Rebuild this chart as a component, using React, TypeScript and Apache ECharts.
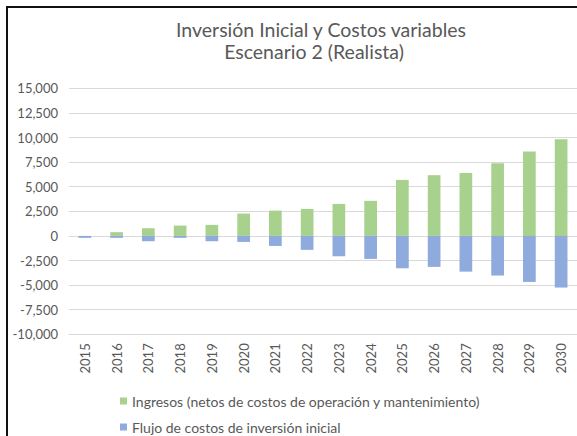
import React, { useEffect, useRef } from "react";
import * as echarts from "echarts";

const years = ["2015","2016","2017","2018","2019","2020","2021","2022","2023","2024","2025","2026","2027","2028","2029","2030"];
const ingresos = [0, 380, 780, 1050, 1120, 2270, 2570, 2740, 3250, 3560, 5690, 6170, 6400, 7390, 8570, 9830];
const flujoInversion = [-200, -200, -540, -200, -540, -610, -1020, -1420, -2070, -2340, -3290, -3150, -3630, -4030, -4680, -5250];
const yTicks = { min: -10000, max: 15000, interval: 2500 };
const seriesNames = [
  "Ingresos (netos de costos de operación y mantenimiento)",
  "Flujo de costos de inversión inicial",
];

const FONT = "Lato, 'Open Sans', sans-serif";
const GRAY = "#595959";

export default function App() {
  const ref = useRef<HTMLDivElement>(null);
  useEffect(() => {
    if (!ref.current) return;
    const chart = echarts.init(ref.current, null, { renderer: "svg" });
    const legendBase = {
      orient: "horizontal",
      left: 115,
      padding: 5,
      itemWidth: 7,
      itemHeight: 7,
      itemTextGap: 5,
      icon: "rect",
      textStyle: { fontFamily: FONT, fontSize: 14, lineHeight: 16, color: GRAY },
    };
    chart.setOption({
      animation: false,
      backgroundColor: "#ffffff",
      title: [
        {
          text: "Inversión Inicial y Costos variables",
          left: 316,
          top: 14,
          textAlign: "center",
          textStyle: { fontFamily: FONT, fontSize: 19.5, fontWeight: "normal", color: GRAY },
        },
        {
          text: "Escenario 2 (Realista)",
          left: 309,
          top: 36,
          textAlign: "center",
          textStyle: { fontFamily: FONT, fontSize: 19.5, fontWeight: "normal", color: GRAY },
        },
      ],
      graphic: [
        {
          type: "rect",
          shape: { x: 7, y: 7, width: 800, height: 600 },
          style: { fill: "none", stroke: "#111", lineWidth: 2 },
          silent: true,
        },
      ],
      legend: [
        { ...legendBase, top: 388, data: [seriesNames[0]] },
        { ...legendBase, top: 414, data: [seriesNames[1]] },
      ],
      grid: { left: 69, right: 0, top: 88.3, bottom: 101.7, containLabel: false },
      xAxis: {
        type: "category",
        data: years,
        axisLine: { show: true, onZero: false, lineStyle: { color: "#d9d9d9" } },
        axisTick: { show: false },
        axisLabel: {
          rotate: 90,
          margin: 9,
          fontFamily: FONT,
          fontSize: 13,
          color: GRAY,
        },
      },
      yAxis: {
        type: "value",
        min: yTicks.min,
        max: yTicks.max,
        interval: yTicks.interval,
        axisLine: { show: false },
        axisTick: { show: false },
        splitLine: { lineStyle: { color: "#d9d9d9" } },
        axisLabel: {
          margin: 11,
          fontFamily: FONT,
          fontSize: 13,
          color: GRAY,
          formatter: (v: number) => v.toLocaleString("en-US"),
        },
      },
      series: [
        {
          name: seriesNames[0],
          type: "bar",
          stack: "total",
          barWidth: "40%",
          itemStyle: { color: "#a9d18e" },
          data: ingresos,
        },
        {
          name: seriesNames[1],
          type: "bar",
          stack: "total",
          barWidth: "40%",
          itemStyle: { color: "#8faadc" },
          data: flujoInversion,
        },
      ],
    });
    return () => chart.dispose();
  }, []);
  return (
    <div
      ref={ref}
      style={{ position: "absolute", left: 0, top: 0, width: 577, height: 436 }}
    />
  );
}
